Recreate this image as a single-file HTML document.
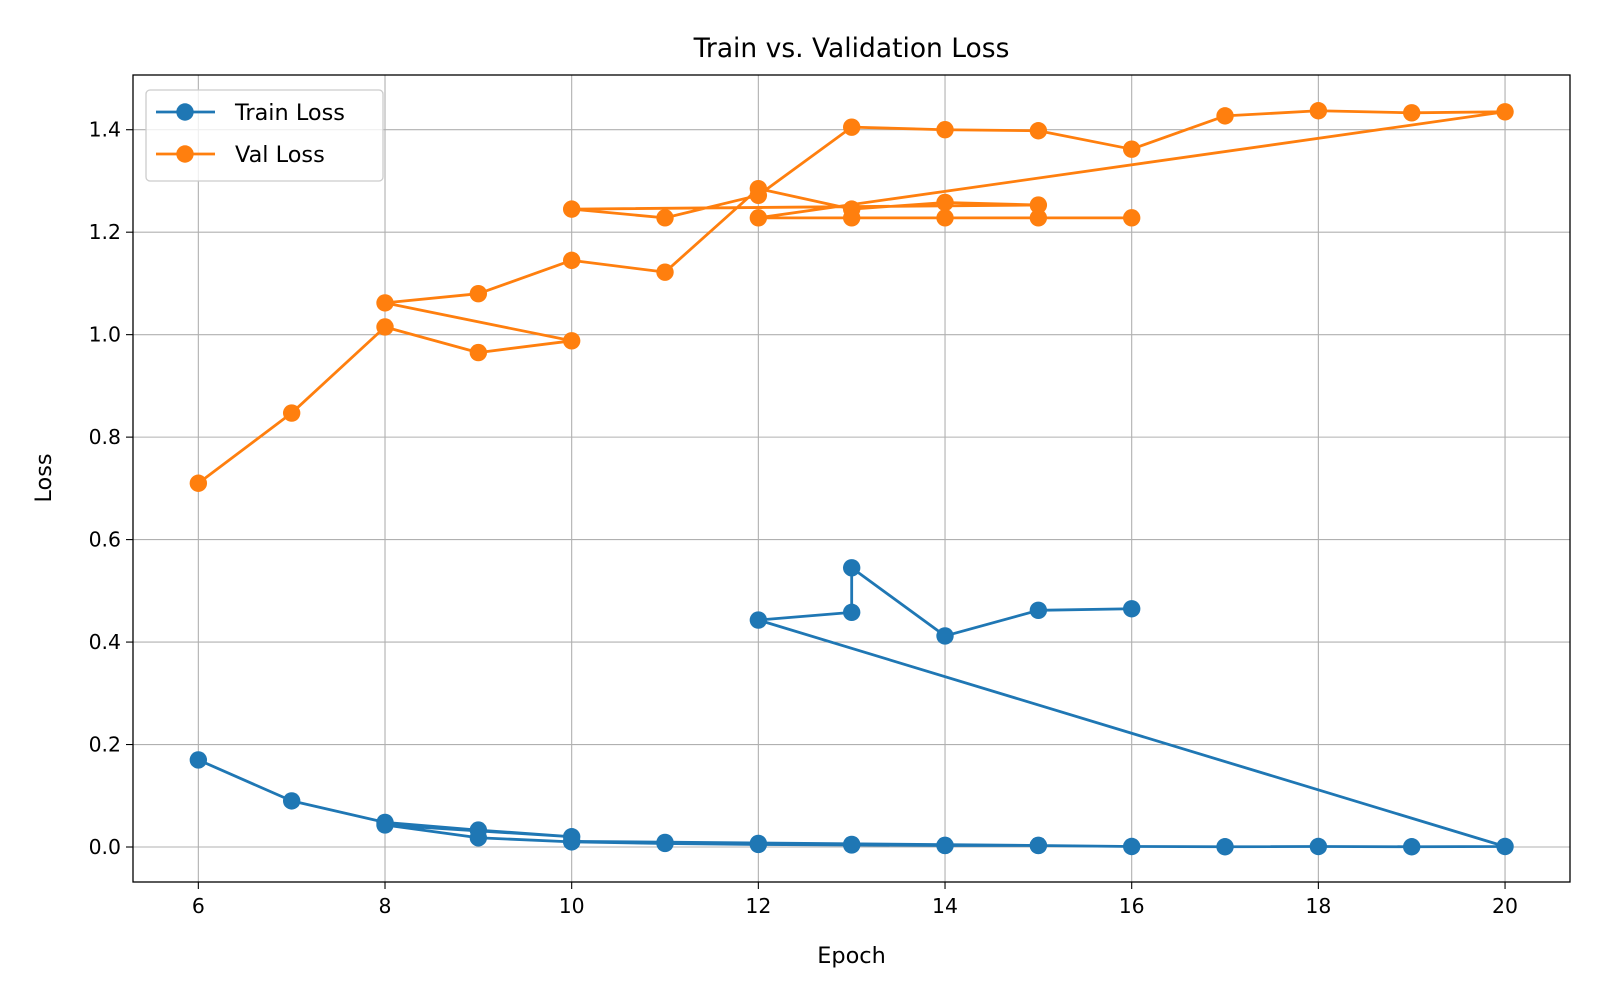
<!DOCTYPE html>
<html><head><meta charset="utf-8"><style>
body{margin:0;background:#fff;font-family:"DejaVu Sans","Liberation Sans",sans-serif}
</style></head><body>
<svg id="c" width="1600" height="1000" xmlns="http://www.w3.org/2000/svg"></svg>
<script>
const xTicks=[6,8,10,12,14,16,18,20];
const yTicks=[0.0,0.2,0.4,0.6,0.8,1.0,1.2,1.4];
const trainEpochs=[6,7,8,9,10, 8,9,10,11,12,13,14,15, 10,11,12,13,14,15,16,17,18,19,20, 12,13,13,14,15,16];
const trainLoss=[0.17,0.09,0.048,0.033,0.02, 0.043,0.018,0.01,0.007,0.005,0.004,0.003,0.003, 0.011,0.009,0.007,0.005,0.003,0.003,0.001,0.0005,0.001,0.0005,0.001, 0.443,0.458,0.545,0.412,0.462,0.465];
const valEpochs=[6,7,8,9,10, 8,9,10,11,12,13,14,15, 10,11,12,13,14,15,16,17,18,19,20, 12,13,14,15,16];
const valLoss=[0.71,0.847,1.015,0.965,0.988, 1.062,1.08,1.145,1.122,1.285,1.245,1.258,1.253, 1.245,1.228,1.272,1.405,1.40,1.398,1.362,1.427,1.437,1.433,1.435, 1.228,1.228,1.228,1.228,1.228];
const L=133,R=1570,T=75,B=882;
const xMin=5.300,xMax=20.696,yMin=-0.0683,yMax=1.5068;
const X=v=>L+(v-xMin)/(xMax-xMin)*(R-L);
const Y=v=>B-(v-yMin)/(yMax-yMin)*(B-T);
const svg=document.getElementById('c');
const NS='http://www.w3.org/2000/svg';
function mk(tag,attrs,txt){const e=document.createElementNS(NS,tag);for(const k in attrs)e.setAttribute(k,attrs[k]);if(txt!==undefined)e.textContent=txt;svg.appendChild(e);return e;}
xTicks.forEach(t=>{
 const g=mk('line',{x1:X(t),x2:X(t),y1:T,y2:B,stroke:'#b0b0b0','stroke-width':1.1});
 
 
 mk('line',{x1:X(t),x2:X(t),y1:B,y2:B+7,stroke:'#000','stroke-width':1.1});
 const tx=mk('text',{x:X(t),y:B+31,'text-anchor':'middle','font-size':20.4},String(t));
 
 
});
yTicks.forEach(t=>{
 const g=mk('line',{x1:L,x2:R,y1:Y(t),y2:Y(t),stroke:'#b0b0b0','stroke-width':1.1});
 
 
 mk('line',{x1:L-7,x2:L,y1:Y(t),y2:Y(t),stroke:'#000','stroke-width':1.1});
 const tx=mk('text',{x:L-12,y:Y(t)+7,'text-anchor':'end','font-size':20.4},t.toFixed(1));
 
 
});
function series(xs,ys,color,name){
 const p=mk('polyline',{points:xs.map((x,i)=>X(x)+','+Y(ys[i])).join(' '),fill:'none',stroke:color,'stroke-width':2.8,'stroke-linejoin':'round'});
 
 
 xs.forEach((x,i)=>{const c=mk('circle',{cx:X(x),cy:Y(ys[i]),r:8.7,fill:color});
  
  });
}
series(trainEpochs,trainLoss,'#1f77b4','train-loss');
series(valEpochs,valLoss,'#ff7f0e','val-loss');
const fr=mk('rect',{x:L,y:T,width:R-L,height:B-T,fill:'none',stroke:'#000','stroke-width':1.3});


const ti=mk('text',{x:(L+R)/2,y:57,'text-anchor':'middle','font-size':26.5},'Train vs. Validation Loss');


const xl=mk('text',{x:(L+R)/2,y:963,'text-anchor':'middle','font-size':22.4},'Epoch');


const yl=mk('text',{x:51,y:478,'text-anchor':'middle','font-size':22.4,transform:'rotate(-90 51 478)'},'Loss');


const lg=mk('rect',{x:146,y:90,width:237,height:91,rx:4,fill:'#fff','fill-opacity':0.8,stroke:'#ccc','stroke-width':1.3});


[['Train Loss','#1f77b4',112,'legend-entry-train'],['Val Loss','#ff7f0e',154,'legend-entry-val']].forEach(([t,c,y,n])=>{
 mk('line',{x1:156,x2:215,y1:y,y2:y,stroke:c,'stroke-width':2.8});
 mk('circle',{cx:185,cy:y,r:8.7,fill:c});
 const e=mk('text',{x:235,y:y+8,'font-size':22.4},t);
 
 
});
</script>
</body></html>
